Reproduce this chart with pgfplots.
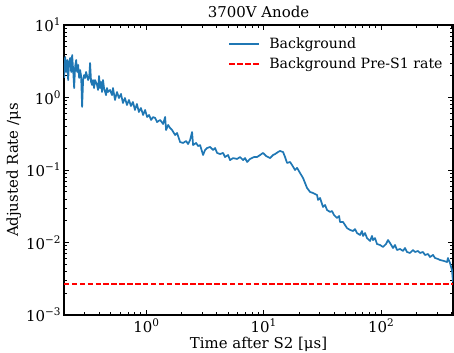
\documentclass[border=0pt]{standalone}
\usepackage{fontspec}
\setmainfont{DejaVu Serif}
\usepackage{pgfplots}
\pgfplotsset{compat=1.18}
\definecolor{tabblue}{HTML}{1F77B4}
\newcommand{\ep}[1]{\raisebox{0.42em}{\fontsize{10.5}{12}\selectfont #1}}
\newcommand{\fs}{\fontsize{15}{18}\selectfont}
\begin{document}
\begin{tikzpicture}
\path[use as bounding box] (-64bp,-38bp) rectangle (390bp,315bp);
\begin{axis}[
  at={(0,0)}, anchor=south west,
  scale only axis, width=389bp, height=290bp,
  xmode=log, ymode=log,
  xmin=0.2, xmax=410, ymin=0.001, ymax=10,
  xtick={1,10,100},
  xticklabels={10\ep{0},10\ep{1},10\ep{2}},
  minor xtick={0.2,0.3,0.4,0.5,0.6,0.7,0.8,0.9,2,3,4,5,6,7,8,9,20,30,40,50,60,70,80,90,200,300,400},
  ytick={0.001,0.01,0.1,1,10},
  yticklabels={10\ep{−3},10\ep{−2},10\ep{−1},10\ep{0},10\ep{1}},
  minor ytick={0.002,0.003,0.004,0.005,0.006,0.007,0.008,0.009,0.02,0.03,0.04,0.05,0.06,0.07,0.08,0.09,0.2,0.3,0.4,0.5,0.6,0.7,0.8,0.9,2,3,4,5,6,7,8,9},
  tick align=inside, xtick pos=both, ytick pos=both,
  major tick length=5.5bp, minor tick length=3bp,
  every major tick/.append style={line width=0.9bp, black},
  every minor tick/.append style={line width=0.7bp, black},
  axis line style={line width=1.6bp},
  tick label style={font=\fs},
  label style={font=\fs},
  title style={font=\fs, yshift=-2bp},
  title={3700V Anode},
  xlabel={Time after S2 [μs]},
  ylabel={Adjusted Rate /μs},
  xlabel style={yshift=2bp},
  ylabel style={yshift=-2bp},
  legend style={draw=none, fill=none, font=\fontsize{14.2}{17}\selectfont, at={(0.415,0.97)}, anchor=north west, row sep=4bp,
    /tikz/every odd column/.append style={column sep=7bp}},
  legend cell align=left,
  legend image code/.code={\draw[#1] (0bp,0bp) -- (30bp,0bp);},
]
\addplot[tabblue, line width=1.7bp, line join=round] coordinates {
(0.2005,1.86) (0.2046,3.62) (0.2086,2.25) (0.2128,3.29) (0.2170,1.74) (0.2213,3.09)
(0.2257,3.51) (0.2302,2.25) (0.2347,3.855) (0.2393,2.39) (0.2440,1.35) (0.2489,2.72)
(0.2538,3.29) (0.2588,2.25) (0.2639,2.81) (0.2691,1.86) (0.2744,2.39) (0.2798,1.98)
(0.2853,0.740) (0.2909,1.74) (0.2967,2.04) (0.3025,1.86) (0.3085,2.25) (0.3208,1.74)
(0.3271,1.86) (0.3335,2.99) (0.3401,1.64) (0.3468,1.49) (0.3536,1.74) (0.3606,1.35)
(0.3677,1.74) (0.3823,1.49) (0.3899,1.27) (0.3976,1.98) (0.4054,1.35) (0.4134,1.64)
(0.4216,1.19) (0.4299,1.74) (0.4384,1.35) (0.4558,1.08) (0.4648,1.35) (0.4740,1.19)
(0.4929,1.27) (0.5125,1.08) (0.5226,1.35) (0.5435,0.924) (0.5651,1.19) (0.5876,0.984)
(0.6111,1.12) (0.6354,0.840) (0.6608,0.984) (0.6871,0.788) (0.7145,0.924) (0.7430,0.764)
(0.7726,0.867) (0.8034,0.673) (0.8354,0.813) (0.8687,0.631) (0.9033,0.717) (0.9430,0.574)
(0.9806,0.673) (1.020,0.538) (1.060,0.574) (1.103,0.490) (1.147,0.538) (1.193,0.522)
(1.240,0.459) (1.316,0.490) (1.396,0.431) (1.452,0.538) (1.480,0.356) (1.540,0.418)
(1.600,0.380) (1.664,0.356) (1.766,0.304) (1.836,0.324) (1.947,0.243) (2.065,0.236)
(2.190,0.251) (2.277,0.228) (2.368,0.259) (2.463,0.334) (2.512,0.221) (2.665,0.236)
(2.773,0.214) (2.882,0.221) (3.055,0.161) (3.178,0.189) (3.304,0.201) (3.507,0.208)
(3.718,0.189) (3.866,0.201) (4.019,0.172) (4.263,0.166) (4.520,0.172) (4.700,0.151)
(4.985,0.161) (5.185,0.137) (5.500,0.146) (5.949,0.142) (6.310,0.151) (6.693,0.137)
(6.960,0.146) (7.240,0.129) (7.676,0.142) (8.300,0.151) (8.802,0.151) (9.339,0.161)
(9.90,0.172) (10.50,0.156) (11.36,0.146) (12.05,0.161) (12.53,0.166) (13.28,0.177)
(13.81,0.183) (14.65,0.177) (15.24,0.151) (15.85,0.125) (16.81,0.129) (17.49,0.117)
(18.54,0.100) (19.28,0.107) (20.45,0.0909) (21.68,0.0776) (22.55,0.0662) (23.45,0.0565)
(24.87,0.0498) (26.38,0.0482) (28.52,0.0452) (29.10,0.0386) (30.26,0.0411) (32.09,0.0309)
(33.37,0.0329) (34.70,0.0281) (36.81,0.0264) (38.28,0.0272) (39.81,0.0239) (42.22,0.0218)
(43.94,0.0232) (44.78,0.0192) (47.49,0.0192) (49.40,0.0174) (51.36,0.0158) (54.47,0.0149)
(57.77,0.0144) (60.09,0.0153) (62.48,0.0135) (66.26,0.0127) (68.87,0.0144) (70.27,0.0123)
(73.09,0.0135) (76.00,0.0115) (80.60,0.0105) (83.80,0.0123) (85.48,0.0108) (88.92,0.0115)
(92.45,0.00953) (98.04,0.00924) (104.0,0.00867) (110.3,0.00953) (114.7,0.0108) (119.3,0.00984)
(126.5,0.00840) (131.5,0.00924) (136.8,0.00788) (145.1,0.00814) (153.9,0.00764) (160.0,0.00840)
(166.4,0.00740) (176.5,0.00717) (187.1,0.00788) (194.6,0.00740) (206.5,0.00764) (214.6,0.00717)
(227.6,0.00740) (236.7,0.00673) (251.2,0.00694) (261.0,0.00631) (277.3,0.00673) (288.1,0.00611)
(305.5,0.00592) (317.9,0.00574) (343.8,0.00556) (364.6,0.00538) (371.5,0.00611) (386.4,0.00522)
(401.8,0.00418) (410,0.00285)
};
\addlegendentry{Background}
\addplot[red, line width=1.5bp, dash pattern=on 5.5bp off 2.4bp] coordinates {(0.2,0.00268) (410,0.00268)};
\addlegendentry{Background Pre-S1 rate}
\end{axis}
\end{tikzpicture}
\end{document}
